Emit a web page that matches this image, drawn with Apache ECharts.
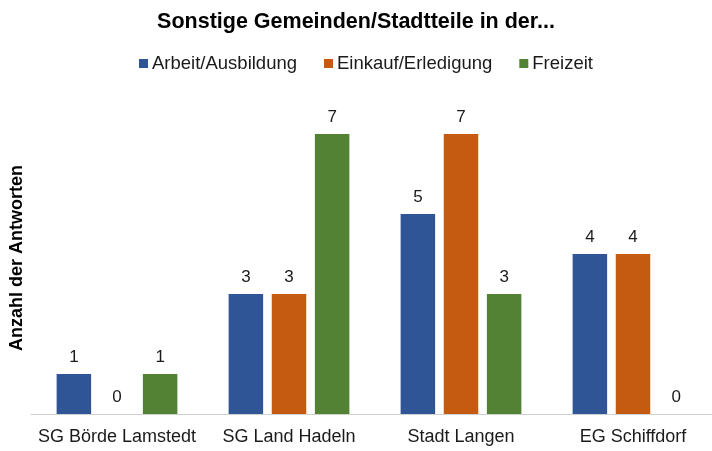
<!DOCTYPE html>
<html><head><meta charset="utf-8">
<script src="https://cdn.jsdelivr.net/npm/echarts@6/dist/echarts.min.js"></script>
<style>html,body{margin:0;padding:0;background:#fff}#c{width:712px;height:451px}</style>
</head><body><div id="c"></div>
<script>
const categories = ['SG Börde Lamstedt', 'SG Land Hadeln', 'Stadt Langen', 'EG Schiffdorf'];
const seriesNames = ['Arbeit/Ausbildung', 'Einkauf/Erledigung', 'Freizeit'];
const arbeit = [1, 3, 5, 4];
const einkauf = [0, 3, 7, 4];
const freizeit = [1, 7, 3, 0];
const colors = ['#2F5597', '#C55A11', '#548235'];
const font = 'Liberation Sans, Arial, sans-serif';
const chart = echarts.init(document.getElementById('c'));
const mk = (name, data, color) => ({
  name, type: 'bar', data, barWidth: 34.5, barGap: '25%',
  itemStyle: { color },
  label: { show: true, position: 'top', distance: 8, color: '#1a1a1a', fontSize: 17, fontFamily: font },
  emphasis: { disabled: true }
});
chart.setOption({
  animation: false,
  title: { text: 'Sonstige Gemeinden/Stadtteile in der...', left: 'center', top: 6,
    textStyle: { fontSize: 21.5, fontWeight: 'bold', color: '#000', fontFamily: font } },
  legend: { top: 49, left: 134, itemWidth: 9, itemHeight: 9, itemGap: 27, icon: 'rect',
    textStyle: { fontSize: 18.5, color: '#1a1a1a', fontFamily: font, padding: [0, 0, 0, -1] },
    data: seriesNames },
  grid: { left: 31, width: 688, top: 94, bottom: 37, outerBoundsMode: 'none', containLabel: false },
  xAxis: { type: 'category', data: categories,
    axisLine: { lineStyle: { color: '#d0d0d0', width: 1 } }, axisTick: { show: false },
    axisLabel: { interval: 0, fontSize: 18, color: '#1a1a1a', fontFamily: font, margin: 14 } },
  yAxis: { type: 'value', min: 0, max: 8, interval: 1,
    name: 'Anzahl der Antworten', nameLocation: 'middle', nameGap: 5, nameRotate: 90,
    nameTextStyle: { fontSize: 18, fontWeight: 'bold', color: '#000', fontFamily: font, padding: [0, 8, 0, 0] },
    axisLabel: { show: false }, splitLine: { show: false }, axisLine: { show: false }, axisTick: { show: false } },
  series: [mk(seriesNames[0], arbeit, colors[0]), mk(seriesNames[1], einkauf, colors[1]), mk(seriesNames[2], freizeit, colors[2])]
});
</script></body></html>
